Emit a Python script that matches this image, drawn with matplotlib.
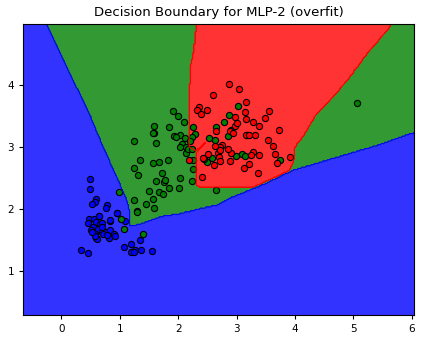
import matplotlib
matplotlib.use("Agg")
import matplotlib.pyplot as plt
import numpy as np
from matplotlib.path import Path

# data points per class
blue_x = [0.49, 0.49, 0.59, 0.58, 0.52, 0.79, 0.76, 0.96, 0.65, 0.83,
          0.47, 0.56, 0.64, 0.46, 0.60, 0.66, 0.69, 0.55, 0.63, 0.51,
          0.58, 0.69, 0.76, 0.83, 0.82, 0.60, 0.62, 0.91, 0.92, 0.72,
          0.58, 0.78, 0.83, 1.09, 0.95, 0.33, 0.46, 1.08, 1.20, 1.35,
          1.26, 1.19, 1.24, 1.37, 1.56, 1.30, 0.53, 0.70]
blue_y = [2.48, 2.32, 2.16, 2.11, 2.07, 2.06, 2.01, 1.93, 1.88, 1.81,
          1.84, 1.84, 1.88, 1.77, 1.78, 1.75, 1.77, 1.71, 1.68, 1.66,
          1.60, 1.63, 1.62, 1.66, 1.53, 1.53, 1.51, 1.59, 1.56, 1.59,
          1.56, 1.57, 1.82, 1.80, 1.93, 1.34, 1.29, 1.38, 1.43, 1.49,
          1.34, 1.31, 1.31, 1.34, 1.32, 1.96, 1.63, 1.70]

green_x = [1.24, 1.91, 2.00, 2.10, 1.59, 1.59, 1.57, 1.84, 1.93, 2.03,
           1.63, 2.12, 2.06, 2.14, 2.14, 2.17, 2.23, 2.25, 2.29, 2.24,
           2.21, 1.97, 2.03, 1.35, 1.31, 1.24, 1.57, 1.68, 1.83, 1.73,
           1.63, 1.76, 1.78, 1.50, 1.68, 1.75, 1.85, 2.01, 2.03, 2.24,
           2.26, 2.26, 0.99, 1.24, 1.30, 1.45, 1.57, 1.58, 1.02, 1.08,
           1.40, 2.65, 3.02, 2.88, 2.65, 2.78, 2.90, 2.86, 3.18, 2.53,
           2.64, 2.58, 2.49, 2.45, 2.99, 3.10, 3.15, 3.74, 5.07]
green_y = [3.09, 3.58, 3.49, 3.40, 3.34, 3.22, 3.22, 3.32, 3.17, 3.18,
           3.06, 3.14, 3.04, 2.99, 2.89, 2.97, 2.97, 3.31, 3.21, 3.16,
           3.09, 3.16, 2.99, 2.78, 2.54, 2.66, 2.73, 2.76, 2.79, 2.58,
           2.45, 2.43, 2.47, 2.28, 2.27, 2.24, 2.33, 2.33, 2.50, 2.45,
           2.64, 2.79, 2.27, 2.14, 1.94, 2.08, 2.15, 2.02, 1.83, 1.68,
           1.60, 2.31, 3.65, 3.51, 3.32, 3.40, 3.27, 3.17, 3.19, 3.14,
           3.10, 2.82, 2.76, 2.80, 2.85, 2.88, 2.85, 2.78, 3.70]

red_x = [2.88, 3.05, 2.60, 3.16, 2.36, 2.32, 2.40, 2.50, 3.14, 3.16,
         3.28, 3.38, 3.55, 3.49, 3.73, 3.54, 3.63, 3.66, 3.69, 3.92,
         2.97, 2.97, 3.00, 2.89, 2.94, 3.16, 3.22, 3.32, 3.28, 3.24,
         3.38, 3.22, 3.12, 3.37, 2.89, 2.90, 2.76, 2.71, 2.68, 2.71,
         2.63, 2.62, 2.42, 2.41, 2.70, 2.19, 2.65, 2.52, 2.72, 2.85]
red_y = [4.01, 3.93, 3.83, 3.72, 3.64, 3.59, 3.53, 3.59, 3.56, 3.45,
         3.39, 3.34, 3.57, 3.46, 3.27, 3.11, 3.01, 2.88, 2.74, 2.83,
         3.48, 3.33, 3.38, 3.25, 3.22, 3.19, 3.19, 3.19, 2.92, 2.87,
         2.86, 2.72, 2.66, 2.58, 2.77, 2.89, 3.03, 3.00, 2.89, 2.94,
         3.01, 2.70, 2.82, 2.51, 2.83, 2.79, 3.25, 2.88, 2.77, 2.96]

# region outlines
x_lo, x_hi = -0.65, 6.04
y_lo, y_hi = 0.29, 4.97

green_bx = [-0.31, 0.09, 0.43, 0.72, 0.95, 1.12, 1.16, 1.18, 1.23, 1.46,
            1.69, 2.03, 2.37, 2.66, 2.94, 3.51, 3.97, 4.37, 4.94, 5.51,
            5.88, 6.10, 6.10, -0.31]
green_by = [5.10, 4.28, 3.64, 2.99, 2.51, 2.14, 2.00, 1.74, 1.72, 1.79,
            1.87, 1.92, 2.00, 2.06, 2.19, 2.41, 2.62, 2.73, 2.89, 3.05,
            3.18, 3.24, 5.10, 5.10]

red_bx = [2.32, 2.29, 2.25, 2.21, 2.19, 2.19, 2.30, 2.58, 2.32, 2.32,
          2.37, 3.29, 3.91, 4.00, 4.00, 4.17, 4.37, 4.60, 4.94, 5.23,
          5.62, 5.70]
red_by = [5.10, 4.71, 4.44, 4.28, 3.74, 2.99, 2.93, 3.16, 2.90, 2.38,
          2.34, 2.35, 2.62, 2.83, 2.99, 3.21, 3.53, 3.74, 4.12, 4.49,
          4.92, 5.10]

h = 0.02
xx, yy = np.meshgrid(np.arange(x_lo - 0.05, x_hi + 0.05, h),
                     np.arange(y_lo - 0.05, y_hi + 0.05, h))
pts = np.c_[xx.ravel(), yy.ravel()]
Z = np.zeros(len(pts))
Z[Path(np.c_[green_bx, green_by]).contains_points(pts)] = 1
Z[Path(np.c_[red_bx, red_by]).contains_points(pts)] = 2
Z = Z.reshape(xx.shape)

fig = plt.figure(figsize=(4.23, 3.42), dpi=100)
ax = fig.add_axes([0.055, 0.079, 0.924, 0.85])
cmap = matplotlib.colors.ListedColormap(["blue", "green", "red"])
ax.contourf(xx, yy, Z, levels=[-0.5, 0.5, 1.5, 2.5], cmap=cmap, alpha=0.8)
ax.contour(xx, yy, Z, levels=[0.5, 1.5], colors=["blue", "red"], linewidths=0.8)

ax.scatter(blue_x, blue_y, c="blue", edgecolors="k", s=20, linewidths=0.8)
ax.scatter(green_x, green_y, c="green", edgecolors="k", s=20, linewidths=0.8)
ax.scatter(red_x, red_y, c="red", edgecolors="k", s=20, linewidths=0.8)

ax.set_xlim(x_lo, x_hi)
ax.set_ylim(y_lo, y_hi)
ax.set_xticks([0, 1, 2, 3, 4, 5, 6])
ax.set_yticks([1, 2, 3, 4])
ax.tick_params(labelsize=7.5, length=3)
ax.set_title("Decision Boundary for MLP-2 (overfit)", fontsize=9.5)

fig.savefig("out.png", dpi=100)
